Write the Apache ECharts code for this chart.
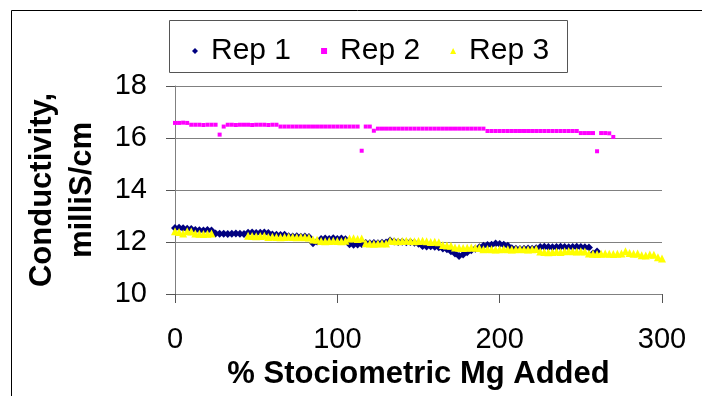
<!DOCTYPE html>
<html>
<head>
<meta charset="utf-8">
<script src="https://cdn.jsdelivr.net/npm/echarts@6/dist/echarts.min.js"></script>
<style>
  html, body { margin: 0; padding: 0; background: #fff; }
  #myChart { width: 702px; height: 396px; }
</style>
</head>
<body>
<div id="myChart"></div>
<script>
// x positions (% stoichiometric Mg added)
var xs = [0, 2.5, 5, 7.5, 10, 12.5, 15, 17.5, 20, 22.5, 25, 27.5, 30, 32.5, 35, 37.5, 40, 42.5, 45, 47.5,
  50, 52.5, 55, 57.5, 60, 62.5, 65, 67.5, 70, 72.5, 75, 77.5, 80, 82.5, 85, 87.5, 90, 92.5, 95, 97.5,
  100, 102.5, 105, 107.5, 110, 112.5, 115, 117.5, 120, 122.5, 125, 127.5, 130, 132.5, 135, 137.5, 140, 142.5, 145, 147.5,
  150, 152.5, 155, 157.5, 160, 162.5, 165, 167.5, 170, 172.5, 175, 177.5, 180, 182.5, 185, 187.5, 190, 192.5, 195, 197.5,
  200, 202.5, 205, 207.5, 210, 212.5, 215, 217.5, 220, 222.5, 225, 227.5, 230, 232.5, 235, 237.5, 240, 242.5, 245, 247.5,
  250, 252.5, 255, 257.5, 260, 262.5, 265, 267.5, 270, 272.5, 275, 277.5, 280, 282.5, 285, 287.5, 290, 292.5, 295, 297.5, 300];

var rep1 = [12.54, 12.55, 12.53, 12.51, 12.5, 12.46, 12.45, 12.44, 12.46, 12.44,
  12.33, 12.32, 12.32, 12.31, 12.32, 12.33, 12.32, 12.31, 12.36, 12.37,
  12.35, 12.36, 12.37, 12.35, 12.29, 12.28, 12.27, 12.28, 12.22, 12.21,
  12.22, 12.2, 12.21, 12.19, 11.95, 12.02, 12.12, 12.13, 12.12, 12.14,
  12.12, 12.13, 12.11, 11.91, 11.89, 11.9, 11.92, 11.96, 11.95, 11.96,
  11.95, 11.97, 11.98, 12.06, 12.02, 12.0, 12.01, 11.99, 12.0, 11.97,
  11.93, 11.85, 11.83, 11.84, 11.82, 11.8, 11.75, 11.72, 11.64, 11.56,
  11.46, 11.52, 11.61, 11.68, 11.74, 11.8, 11.86, 11.88, 11.89, 11.94,
  11.92, 11.89, 11.86, 11.76, 11.74, 11.73, 11.74, 11.75, 11.74, 11.76,
  11.81, 11.82, 11.81, 11.8, 11.81, 11.82, 11.81, 11.8, 11.81, 11.82,
  11.81, 11.8, 11.79, 11.56, 11.63,
  null, null, null, null, null, null, null, null, null, null, null, null, null, null, null, null];

var rep2 = [16.58, 16.58, 16.59, 16.58, 16.51, 16.51, 16.51, 16.5, 16.51, 16.51,
  16.51, 16.13, 16.44, 16.51, 16.51, 16.5, 16.51, 16.51, 16.51, 16.5,
  16.51, 16.51, 16.51, 16.5, 16.51, 16.51, 16.44, 16.44, 16.44, 16.44,
  16.44, 16.44, 16.44, 16.44, 16.44, 16.44, 16.44, 16.44, 16.44, 16.44,
  16.44, 16.44, 16.44, 16.44, 16.44, 16.44, 15.51, 16.44, 16.44, 16.28,
  16.36, 16.36, 16.36, 16.36, 16.36, 16.36, 16.36, 16.36, 16.36, 16.36,
  16.36, 16.36, 16.36, 16.36, 16.36, 16.36, 16.36, 16.36, 16.36, 16.36,
  16.36, 16.36, 16.36, 16.36, 16.36, 16.36, 16.36, 16.27, 16.27, 16.27,
  16.27, 16.27, 16.27, 16.27, 16.27, 16.27, 16.27, 16.27, 16.27, 16.27,
  16.27, 16.27, 16.27, 16.27, 16.27, 16.27, 16.27, 16.27, 16.27, 16.27,
  16.19, 16.19, 16.19, 16.19, 15.49, 16.19, 16.19, 16.18, 16.04,
  null, null, null, null, null, null, null, null, null, null, null, null];

var rep3 = [12.41, 12.38, 12.33, 12.41, 12.4, 12.33, 12.32, 12.31, 12.32, 12.33,
  null, null, null, null, null, null, null, null, 12.24, 12.23,
  12.22, 12.23, 12.24, 12.19, 12.2, 12.19, 12.18, 12.19, 12.2, 12.19,
  12.18, 12.19, 12.18, 12.17, 12.1, 12.09, 12.04, 12.03, 12.04, 12.05,
  12.04, 12.03, 12.05, 12.13, 12.14, 12.12, 12.13, 11.95, 11.94, 11.93,
  11.94, 11.95, 11.94, 12.05, 12.04, 12.03, 12.04, 12.05, 12.04, 12.03,
  12.04, 12.05, 12.03, 12.0, 12.01, 11.99, 11.88, 11.87, 11.86, 11.79,
  11.78, 11.77, 11.78, 11.79, 11.78, 11.77, 11.72, 11.73, 11.72, 11.71,
  11.72, 11.73, 11.72, 11.71, 11.72, 11.73, 11.72, 11.71, 11.72, 11.73,
  11.63, 11.62, 11.61, 11.62, 11.63, 11.62, 11.64, 11.65, 11.64, 11.63,
  11.64, 11.63, 11.56, 11.55, 11.54, 11.55, 11.56, 11.55, 11.54, 11.55,
  11.56, 11.64, 11.58, 11.55, 11.56, 11.49, 11.48, 11.52, 11.51, 11.41,
  11.37];

var seriesNames = ['Rep 1', 'Rep 2', 'Rep 3'];
var yTicks = [10, 18, 2];   // min, max, interval
var xTicks = [0, 300, 100];

function pairs(vals) {
  var out = [];
  for (var i = 0; i < xs.length; i++) {
    if (vals[i] != null) out.push([xs[i], vals[i]]);
  }
  return out;
}

var font = "'Liberation Sans', Arial, sans-serif";

var myChart = echarts.init(document.getElementById('myChart'));
var option = {
  animation: false,
  backgroundColor: '#fff',
  textStyle: { fontFamily: font },
  graphic: [
    { type: 'rect', shape: { x: 11.5, y: 10.5, width: 740, height: 440 },
      style: { fill: 'none', stroke: '#000', lineWidth: 1 } },
    { type: 'rect', shape: { x: 169.5, y: 20.5, width: 398, height: 52 },
      style: { fill: 'none', stroke: '#555', lineWidth: 1 } }
  ],
  legend: {
    left: 187,
    top: 31,
    itemWidth: 6,
    itemHeight: 6,
    itemGap: 30,
    data: [
      { name: seriesNames[0], icon: 'diamond' },
      { name: seriesNames[1], icon: 'rect' },
      { name: seriesNames[2], icon: 'triangle' }
    ],
    textStyle: { fontSize: 30, color: '#000', fontFamily: font, padding: [0, 0, 0, 8] }
  },
  grid: { left: 175, top: 86, width: 487, height: 208 },
  xAxis: {
    type: 'value',
    min: xTicks[0], max: xTicks[1], interval: xTicks[2],
    name: '% Stociometric Mg Added',
    nameLocation: 'middle',
    nameGap: 62,
    nameTextStyle: { fontSize: 31, fontWeight: 'bold', color: '#000', fontFamily: font },
    axisLine: { lineStyle: { color: '#808080', width: 1 } },
    axisTick: { length: 9, lineStyle: { color: '#555' } },
    axisLabel: { fontSize: 29, color: '#000', margin: 31, fontFamily: font },
    splitLine: { show: false }
  },
  yAxis: {
    type: 'value',
    min: yTicks[0], max: yTicks[1], interval: yTicks[2],
    name: 'Conductivity,\nmilliS/cm',
    nameLocation: 'middle',
    nameGap: 73,
    nameTextStyle: { fontSize: 31, fontWeight: 'bold', color: '#000', lineHeight: 40, fontFamily: font },
    axisLine: { show: true, lineStyle: { color: '#808080', width: 1 } },
    axisTick: { show: true, length: 9, lineStyle: { color: '#555' } },
    axisLabel: { fontSize: 29, color: '#000', margin: 28, fontFamily: font },
    splitLine: { show: true, lineStyle: { color: '#808080', width: 1 } }
  },
  series: [
    { name: seriesNames[0], type: 'scatter', symbol: 'diamond', symbolSize: 8,
      itemStyle: { color: '#000080', opacity: 1 }, data: pairs(rep1) },
    { name: seriesNames[1], type: 'scatter', symbol: 'rect', symbolSize: 4,
      itemStyle: { color: '#FF00FF', opacity: 1 }, data: pairs(rep2) },
    { name: seriesNames[2], type: 'scatter', symbol: 'triangle', symbolSize: 8,
      itemStyle: { color: '#FFFF00', opacity: 1 }, data: pairs(rep3) }
  ]
};
myChart.setOption(option);
window.addEventListener('resize', myChart.resize);
</script>
</body>
</html>
